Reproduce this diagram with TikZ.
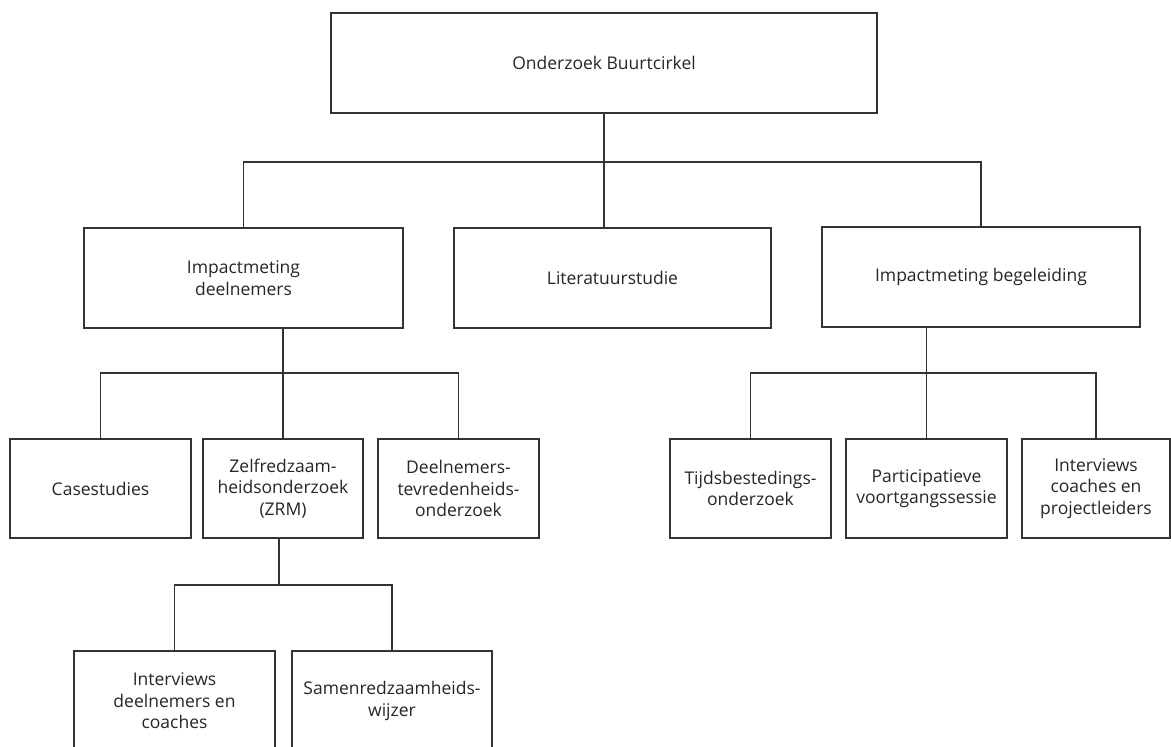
\documentclass[tikz,border=0pt]{standalone}
\usepackage{fontspec}
\setmainfont{Open Sans}
\usetikzlibrary{calc}

\tikzset{
  box/.style={draw=black!80, line width=1.8pt, fill=white, align=center,
    inner sep=2pt, text=black!85, font=\fontsize{17.5}{21.5}\selectfont},
  link/.style={draw=black!80, line width=1.8pt},
}

\begin{document}
\begin{tikzpicture}[x=1pt,y=-1pt]
    \useasboundingbox (0,0) rectangle (1171,747);
    \clip (0,0) rectangle (1171,747);

    % Root
    \node[box, minimum width=546pt, minimum height=100pt] (root) at (604,63) {Onderzoek Buurtcirkel};

    % Second level
    \node[box, minimum width=319pt, minimum height=100pt] (imp) at (243.5,278) {Impactmeting\\deelnemers};
    \node[box, minimum width=317pt, minimum height=100pt] (lit) at (612.5,278) {Literatuurstudie};
    \node[box, minimum width=318pt, minimum height=100pt] (beg) at (981,277) {Impactmeting begeleiding};

    % Third level, left
    \node[box, minimum width=181pt, minimum height=99pt] (case) at (100.5,488.5) {Casestudies};
    \node[box, minimum width=160pt, minimum height=99pt] (zelf) at (283,488.5) {Zelfredzaam-\\heidsonderzoek\\(ZRM)};
    \node[box, minimum width=161pt, minimum height=99pt] (deel) at (458.5,488.5) {Deelnemers-\\tevredenheids-\\onderzoek};

    % Third level, right
    \node[box, minimum width=161pt, minimum height=99pt] (tijd) at (750.5,488.5) {Tijdsbestedings-\\onderzoek};
    \node[box, minimum width=161pt, minimum height=99pt] (part) at (926.5,488.5) {Participatieve\\voortgangssessie};
    \node[box, minimum width=148pt, minimum height=99pt] (intc) at (1096,488.5) {Interviews\\coaches en\\projectleiders};

    % Fourth level
    \node[box, minimum width=201pt, minimum height=100pt] (intd) at (174.5,701) {Interviews\\deelnemers en\\coaches};
    \node[box, minimum width=200pt, minimum height=100pt] (samen) at (392,701) {Samenredzaamheids-\\wijzer};

    % Links root
    \draw[link] (root.south) -- (root.south |- lit.north);
    \draw[link] (imp.north) -- ++(0,-65) -| (beg.north);

    % Links impactmeting deelnemers
    \draw[link] (imp.south -| zelf.north) -- (zelf.north);
    \draw[link] (case.north) -- ++(0,-65) -| (deel.north);

    % Links impactmeting begeleiding
    \draw[link] (beg.south -| part.north) -- (part.north);
    \draw[link] (tijd.north) -- ++(0,-65) -| (intc.north);

    % Links zelfredzaamheidsonderzoek
    \draw[link] (zelf.south -| 279,0) -- (279,586);
    \draw[link] (intd.north) -- ++(0,-65) -| (samen.north);
\end{tikzpicture}
\end{document}
